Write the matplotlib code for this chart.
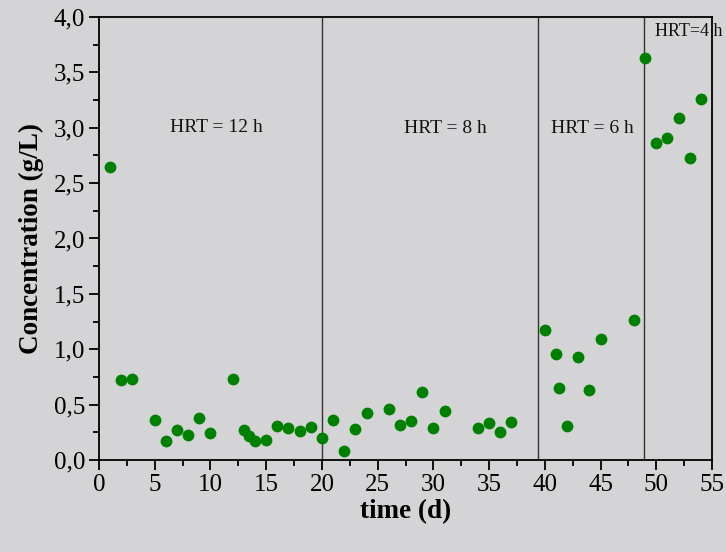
import matplotlib
matplotlib.use('Agg')
import matplotlib.pyplot as plt
from matplotlib.ticker import MultipleLocator, FuncFormatter

plt.rcParams['font.family'] = ['Liberation Serif', 'DejaVu Serif']

# time (d) and concentration (g/L)
days = [1, 2, 3, 5, 6, 7, 8, 9, 10, 12, 13, 13.5, 14, 15, 16, 17, 18, 19, 20, 21,
        22, 23, 24, 26, 27, 28, 29, 30, 31, 34, 35, 36, 37,
        40, 41, 41.3, 42, 43, 44, 45, 48,
        49, 50, 51, 52, 53, 54]
conc = [2.65, 0.72, 0.73, 0.36, 0.17, 0.27, 0.23, 0.38, 0.24, 0.73, 0.27, 0.22, 0.17, 0.18, 0.31, 0.29, 0.26, 0.30, 0.20, 0.36,
        0.08, 0.28, 0.42, 0.46, 0.32, 0.35, 0.61, 0.29, 0.44, 0.29, 0.33, 0.25, 0.34,
        1.17, 0.96, 0.65, 0.31, 0.93, 0.63, 1.09, 1.26,
        3.63, 2.86, 2.91, 3.09, 2.73, 3.26]

# HRT phase boundaries and labels
boundaries = [20, 39.4, 48.9]
hrt_labels = ['HRT = 12 h', 'HRT = 8 h', 'HRT = 6 h', 'HRT=4 h']
hrt_x = [10.5, 31.1, 44.3, 49.9]
hrt_y = [3.0, 2.99, 2.99, 3.87]

bg = '#D4D4D6'
fig = plt.figure(figsize=(7.26, 5.52), dpi=100)
fig.patch.set_facecolor(bg)
ax = fig.add_axes([0.1364, 0.1667, 0.8443, 0.8025])
ax.set_facecolor(bg)

for b in boundaries:
    ax.axvline(b, color='#333333', linewidth=1.0, zorder=1)

ax.plot(days, conc, 'o', color='#008000', markersize=8.5, markeredgewidth=0, zorder=3)

for i, (lab, x, y) in enumerate(zip(hrt_labels, hrt_x, hrt_y)):
    ax.text(x, y, lab, fontsize=14 if i < 3 else 13, ha='center' if i < 3 else 'left',
            va='center', color='#111111', clip_on=False)

ax.set_xlim(0, 55)
ax.set_ylim(0, 4.0)
ax.xaxis.set_major_locator(MultipleLocator(5))
ax.xaxis.set_minor_locator(MultipleLocator(2.5))
ax.yaxis.set_major_locator(MultipleLocator(0.5))
ax.yaxis.set_minor_locator(MultipleLocator(0.25))
ax.yaxis.set_major_formatter(FuncFormatter(lambda v, p: f'{v:.1f}'.replace('.', ',')))

ax.tick_params(which='major', direction='out', length=7, width=1.3, labelsize=18,
               top=False, right=False, pad=3)
ax.tick_params(which='minor', direction='out', length=4, width=1.3, top=False, right=False)
for s in ax.spines.values():
    s.set_linewidth(1.3)

ax.set_xlabel('time (d)', fontsize=19.5, fontweight='bold', labelpad=2)
ax.set_ylabel('Concentration (g/L)', fontsize=19.5, fontweight='bold', labelpad=7)

plt.savefig('out.png', dpi=100, facecolor=bg)
